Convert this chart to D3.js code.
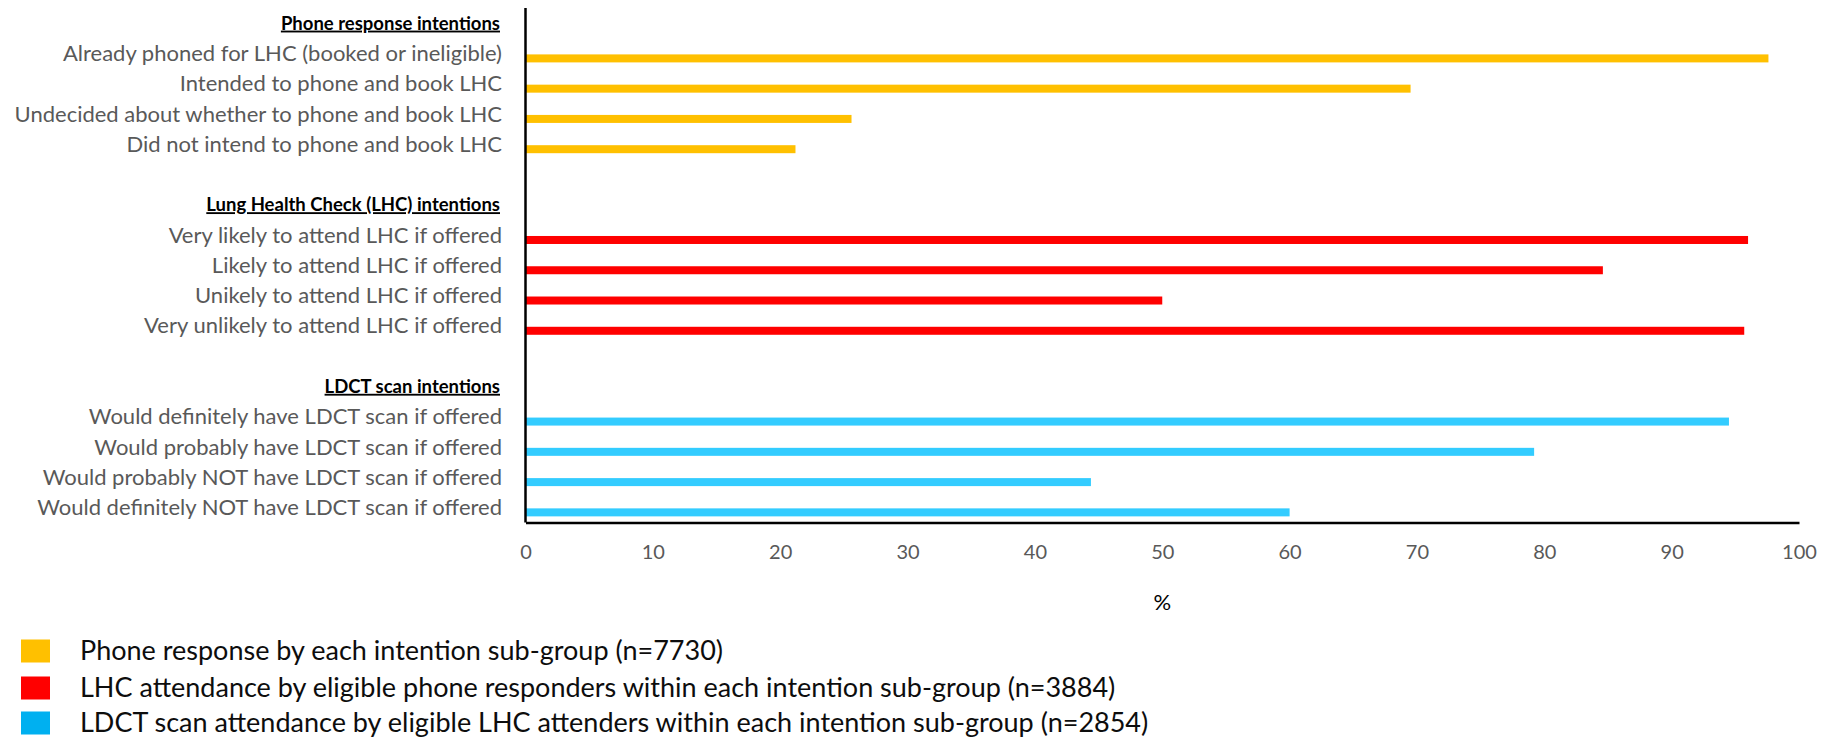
<!DOCTYPE html>
<html>
<head>
<meta charset="utf-8">
<script src="https://cdn.jsdelivr.net/npm/d3@7"></script>
<style>
  body { margin: 0; background: #fff; }
  text { font-family: Lato, "Open Sans", sans-serif; }
</style>
</head>
<body>
<script>
const groupTitles = ['Phone response intentions', 'Lung Health Check (LHC) intentions', 'LDCT scan intentions']

const phoneLabels = [
  'Already phoned for LHC (booked or ineligible)',
  'Intended to phone and book LHC',
  'Undecided about whether to phone and book LHC',
  'Did not intend to phone and book LHC'
]
const phoneValues = [97.6, 69.5, 25.6, 21.2]

const lhcLabels = [
  'Very likely to attend LHC if offered',
  'Likely to attend LHC if offered',
  'Unikely to attend LHC if offered',
  'Very unlikely to attend LHC if offered'
]
const lhcValues = [96.0, 84.6, 50.0, 95.7]

const ldctLabels = [
  'Would definitely have LDCT scan if offered',
  'Would probably have LDCT scan if offered',
  'Would probably NOT have LDCT scan if offered',
  'Would definitely NOT have LDCT scan if offered'
]
const ldctValues = [94.5, 79.2, 44.4, 60.0]

const xTicks = [0, 10, 20, 30, 40, 50, 60, 70, 80, 90, 100]

const seriesColors = ['#FFC000', '#FF0000', '#33CCFF']
const legendColors = ['#FFC000', '#FF0000', '#00B0F0']
const legendLabels = [
  'Phone response by each intention sub-group (n=7730)',
  'LHC attendance by eligible phone responders within each intention sub-group (n=3884)',
  'LDCT scan attendance by eligible LHC attenders within each intention sub-group (n=2854)'
]

// build the row list: header, 4 items, spacer, header, ...
let rows = []
let groups = [[phoneLabels, phoneValues], [lhcLabels, lhcValues], [ldctLabels, ldctValues]]
groups.forEach(function(g, gi) {
  if (gi > 0) rows.push({ key: 'blank' + gi, type: 'blank' })
  rows.push({ key: 'head' + gi, type: 'head', label: groupTitles[gi] })
  g[0].forEach(function(lab, i) {
    rows.push({ key: 'r' + gi + '_' + i, type: 'bar', label: lab, value: g[1][i], series: gi })
  })
})

const width = 1823, height = 738
const plotLeft = 525.5, plotRight = 1799, plotTop = 8, plotBottom = 522.5

var svg = d3.select('body').append('svg')
  .attr('width', width)
  .attr('height', height)

let x = d3.scaleLinear().domain([0, 100]).range([plotLeft, plotRight])
let y = d3.scaleBand().domain(rows.map(d => d.key)).range([plotTop, plotBottom])

let barRows = rows.filter(d => d.type === 'bar')

// bars
svg.append('g').selectAll('rect')
  .data(barRows)
  .join('rect')
    .attr('x', x(0))
    .attr('y', d => y(d.key) + y.bandwidth() / 2 + 1)
    .attr('width', d => x(d.value) - x(0))
    .attr('height', 8)
    .attr('fill', d => seriesColors[d.series])

// category labels
svg.append('g').selectAll('text')
  .data(rows.filter(d => d.type !== 'blank'))
  .join('text')
    .attr('x', d => d.type === 'head' ? 500 : 502)
    .attr('y', d => y(d.key) + y.bandwidth() / 2)
    .attr('dy', '0.35em')
    .attr('text-anchor', 'end')
    .attr('fill', d => d.type === 'head' ? '#000' : '#595959')
    .style('font-size', d => d.type === 'head' ? '18.5px' : '22px')
    .style('font-weight', d => d.type === 'head' ? 'bold' : 'normal')
    .style('text-decoration', d => d.type === 'head' ? 'underline' : 'none')
    .text(d => d.label)

// x axis
let xAxis = svg.append('g')
  .attr('transform', 'translate(0,' + plotBottom + ')')
  .call(d3.axisBottom(x).tickValues(xTicks).tickSize(0).tickPadding(22))
xAxis.select('.domain').attr('stroke', '#000').attr('stroke-width', 2.5)
xAxis.selectAll('text')
  .attr('fill', '#595959')
  .style('font-size', '20px')
  .style('font-family', 'Lato, sans-serif')

// y axis line
svg.append('line')
  .attr('x1', plotLeft).attr('x2', plotLeft)
  .attr('y1', plotTop).attr('y2', plotBottom)
  .attr('stroke', '#000')
  .attr('stroke-width', 2.5)

// axis title
svg.append('text')
  .attr('x', (plotLeft + plotRight) / 2)
  .attr('y', 602)
  .attr('dy', '0.35em')
  .attr('text-anchor', 'middle')
  .attr('fill', '#000')
  .style('font-size', '22px')
  .text('%')

// legend
let legend = svg.append('g').selectAll('g')
  .data(legendLabels)
  .join('g')
    .attr('transform', (d, i) => 'translate(0,' + [651, 688, 723][i] + ')')

legend.append('rect')
  .attr('x', 21)
  .attr('y', -11.5)
  .attr('width', 29)
  .attr('height', 23)
  .attr('fill', (d, i) => legendColors[i])

legend.append('text')
  .attr('x', 80)
  .attr('y', 0)
  .attr('dy', '0.35em')
  .attr('fill', '#0d0d0d')
  .style('font-size', '27px')
  .text(d => d)
</script>
</body>
</html>
